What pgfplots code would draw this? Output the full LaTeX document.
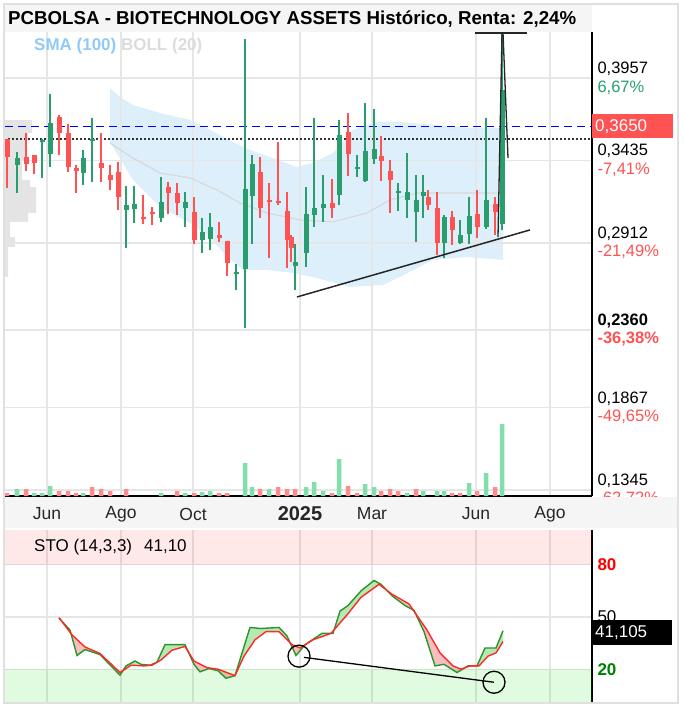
\documentclass[border=0pt]{standalone}
\usepackage{fontspec}
\setmainfont{Liberation Sans}
\usepackage{pgfplots}
\usepackage{pgfplotstable}
\pgfplotsset{compat=1.18}
\usepgfplotslibrary{fillbetween}

\definecolor{cgreen}{RGB}{41,157,110}
\definecolor{cred}{RGB}{255,82,82}
\definecolor{vgreen}{RGB}{130,222,170}
\definecolor{vred}{RGB}{255,140,140}
\definecolor{bbfill}{RGB}{222,239,252}
\definecolor{smaline}{RGB}{215,215,215}
\definecolor{gridgray}{RGB}{230,230,230}
\definecolor{barbg}{RGB}{245,245,245}
\definecolor{framegray}{RGB}{224,224,224}
\definecolor{pctgreen}{RGB}{38,160,110}
\definecolor{smablue}{RGB}{144,202,249}
\definecolor{bollgray}{RGB}{220,220,220}
\definecolor{profgray}{RGB}{228,228,228}
\definecolor{stogreen}{RGB}{40,150,40}
\definecolor{stored}{RGB}{255,40,40}
\definecolor{stopink}{RGB}{246,190,190}
\definecolor{stolgreen}{RGB}{180,232,180}
\definecolor{obred}{RGB}{255,0,0}
\definecolor{osgreen}{RGB}{0,220,0}
\definecolor{lab20}{RGB}{0,128,0}

% velas semanales: x (posicion), maximo, minimo, cuerpo arriba, cuerpo abajo
\pgfplotstableread{
x   hi     lo     top    bot
17  0.3488 0.3228 0.3450 0.3406
42  0.3571 0.3324 0.3564 0.3552
50  0.3856 0.3393 0.3672 0.3476
83  0.3501 0.3279 0.3450 0.3355
92  0.3704 0.3298 0.3571 0.3558
126 0.3273 0.2880 0.3152 0.3121
134 0.3273 0.3038 0.3159 0.3127
161 0.3330 0.3045 0.3171 0.3070
185 0.3235 0.3013 0.3171 0.3133
202 0.3070 0.2848 0.2981 0.2930
210 0.3102 0.2867 0.3013 0.2937
236 0.2778 0.2613 0.2728 0.2715
245 0.4205 0.2372 0.3254 0.2747
252 0.3469 0.2905 0.3412 0.3209
295 0.2905 0.2613 0.2791 0.2766
306 0.3266 0.2759 0.3095 0.2848
314 0.3704 0.3013 0.3133 0.3089
323 0.3343 0.3045 0.3159 0.3133
339 0.3691 0.3152 0.3596 0.3216
357 0.3469 0.3330 0.3393 0.3381
365 0.3799 0.3298 0.3495 0.3305
374 0.3761 0.3412 0.3507 0.3444
398 0.3292 0.3114 0.3241 0.3228
407 0.3482 0.3070 0.3235 0.3184
416 0.3343 0.2918 0.3184 0.3108
423 0.3343 0.3070 0.3235 0.3209
444 0.3089 0.2816 0.3076 0.2911
460 0.3057 0.2905 0.2962 0.2911
469 0.3203 0.2905 0.3083 0.2968
486 0.3704 0.3000 0.3184 0.3013
502 0.4243 0.2994 0.3881 0.3032
}\velasverdes

\pgfplotstableread{
x   hi     lo     top    bot
7   0.3571 0.3260 0.3571 0.3457
26  0.3609 0.3368 0.3457 0.3412
34  0.3469 0.3349 0.3469 0.3419
59  0.3723 0.3469 0.3710 0.3609
68  0.3666 0.3362 0.3609 0.3393
76  0.3406 0.3228 0.3387 0.3368
101 0.3609 0.3298 0.3419 0.3387
110 0.3406 0.3247 0.3343 0.3311
118 0.3425 0.3121 0.3362 0.3203
143 0.3216 0.3032 0.3076 0.3064
152 0.3140 0.3026 0.3108 0.3095
168 0.3298 0.3095 0.3266 0.3228
177 0.3292 0.3089 0.3228 0.3165
194 0.3203 0.2905 0.3108 0.2930
219 0.3045 0.2918 0.2962 0.2943
227 0.2924 0.2702 0.2924 0.2785
260 0.3457 0.3070 0.3362 0.3133
269 0.3292 0.2816 0.3184 0.3171
278 0.3552 0.3152 0.3178 0.3165
287 0.3235 0.2753 0.3114 0.2930
291 0.2962 0.2791 0.2949 0.2880
332 0.3317 0.3070 0.3165 0.3133
348 0.3736 0.3336 0.3615 0.3476
381 0.3590 0.3305 0.3463 0.3431
390 0.3438 0.3102 0.3368 0.3311
428 0.3247 0.3121 0.3203 0.3152
437 0.3235 0.2835 0.3133 0.2911
452 0.3114 0.2899 0.3076 0.2994
477 0.3247 0.2943 0.3095 0.3013
495 0.3203 0.2962 0.3159 0.3108
}\velasrojas

% volumen (unidades relativas)
\pgfplotstableread{
x v
17 7
34 3
42 3
50 10
83 3
161 3
185 3
202 4
210 5
245 33
252 9
269 7
306 9
314 14
323 5
339 37
365 12
374 9
407 3
423 5
437 5
444 5
469 13
486 23
502 72
}\volverde

\pgfplotstableread{
x v
7 3
26 7
59 5
68 5
76 3
92 9
101 7
110 5
126 7
177 5
194 3
219 3
227 3
260 7
278 9
287 7
295 7
332 3
348 10
357 3
381 5
390 7
398 5
416 7
452 3
460 3
477 5
495 9
}\volrojo

% estocastico %K y %D
\pgfplotstableread{
x v
59 49.4
70 42.5
77 27.9
85 31.3
100 28.4
120 16.6
126 21.9
135 24.7
141 22.8
150 22.3
157 24.1
165 34.1
185 34.1
194 22.8
200 18.5
209 20.4
218 19.1
226 14.8
235 16.3
250 44.0
261 43.4
279 44.0
287 39.1
296 27.9
305 34.1
322 40.6
333 40.6
340 53.4
348 56.6
361 65.0
374 71.0
381 68.8
392 62.2
405 56.6
414 53.8
424 41.6
435 21.9
444 22.8
457 18.1
468 21.9
477 21.9
485 32.2
496 32.2
503 42.1
}\stok

\pgfplotstableread{
x v
59 49.6
72 39.7
85 32.8
100 29.0
120 18.1
131 22.3
144 21.9
152 22.3
161 25.3
172 30.9
185 33.1
194 24.7
207 20.9
218 20.0
235 16.3
244 27.5
255 36.9
266 41.6
279 41.6
292 34.1
300 32.2
313 36.9
331 40.6
348 51.9
361 61.3
379 68.8
392 63.1
409 57.5
427 42.5
440 29.4
453 21.9
461 20.0
470 21.9
479 21.9
488 27.5
496 29.4
503 35.9
}\stod

\begin{document}
\begin{tikzpicture}
\path (0,0) rectangle (683pt,-708pt);

% cabecera
\fill[barbg] (5pt,-5pt) rectangle (592pt,-32pt);
\node[anchor=base west, inner sep=0pt, font=\bfseries\fontsize{18.7}{21}\selectfont]
  at (8pt,-25pt) {PCBOLSA - BIOTECHNOLOGY ASSETS Histórico, Renta: 2,24\%};

% panel de precios
\begin{axis}[
  at={(5pt,-32pt)}, anchor=north west,
  width=587pt, height=464pt, scale only axis,
  set layers,
  xmin=5, xmax=592, ymin=0.1307, ymax=0.4249,
  axis x line*=bottom, axis y line*=right,
  axis line style={black, line width=1.4pt},
  xtick={47,121,193,300,372,476,550}, xticklabel=\empty,
  ytick={0.1345,0.1867,0.2360,0.2912,0.3435,0.3957},
  yticklabels={
    {0,1345\\\textcolor{cred}{-62,72\%}},
    {0,1867\\\textcolor{cred}{-49,65\%}},
    {\textbf{0,2360}\\\textcolor{cred}{\textbf{-36,38\%}}},
    {0,2912\\\textcolor{cred}{-21,49\%}},
    {0,3435\\\textcolor{cred}{-7,41\%}},
    {0,3957\\\textcolor{pctgreen}{6,67\%}}},
  yticklabel style={anchor=west, align=left, xshift=2pt,
    font=\fontsize{16.5}{18.5}\selectfont},
  major tick length=0pt,
  grid=major, grid style={gridgray, line width=1.3pt},
]
% perfil de volumen
\addplot[on layer=axis background, fill=profgray, draw=none] coordinates {
  (5,0.3691) (32,0.3691) (32,0.3609) (28,0.3609) (28,0.3564) (25,0.3564)
  (25,0.3438) (22,0.3438) (22,0.3311) (30,0.3311) (30,0.3266) (36,0.3266)
  (36,0.3102) (28,0.3102) (28,0.3045) (10,0.3045) (10,0.2949) (15,0.2949)
  (15,0.2886) (8,0.2886) (8,0.2696) (5,0.2696)} -- cycle;
% bandas de Bollinger
\addplot[on layer=axis background, fill=bbfill, draw=none] coordinates {
  (110,0.3894) (120,0.3837) (133,0.3786) (160,0.3736) (190,0.3691) (210,0.3628)
  (233,0.3552) (250,0.3501) (273,0.3450) (297,0.3393) (313,0.3419) (333,0.3482)
  (353,0.3628) (377,0.3679) (400,0.3679) (433,0.3660) (467,0.3641) (503,0.3641)
  (503,0.2804) (467,0.2823) (433,0.2804) (400,0.2696) (383,0.2645) (350,0.2632)
  (317,0.2689) (293,0.2721) (267,0.2740) (243,0.2740) (227,0.2823) (210,0.2949)
  (190,0.3038) (160,0.3140) (133,0.3311) (113,0.3520) (110,0.3545)} -- cycle;
\addplot[smaline, line width=1.1pt] coordinates {
  (110,0.3545) (133,0.3450) (160,0.3355) (190,0.3324) (217,0.3247) (240,0.3165)
  (267,0.3102) (300,0.3057) (333,0.3045) (367,0.3102) (390,0.3184) (417,0.3228)
  (450,0.3228) (497,0.3228)};
% niveles
\addplot[blue, line width=1.3pt, dash pattern=on 8pt off 5pt] coordinates {(5,0.3652) (592,0.3652)};
\addplot[black!80, line width=1.3pt, dash pattern=on 2pt off 2pt] coordinates {(8,0.3571) (592,0.3571)};
% mechas y cuerpos
\addplot[draw=none, mark=none, error bars/.cd, y dir=plus, y explicit, error mark=none,
  error bar style={line width=1.3pt, draw=cgreen}]
  table[x=x, y=lo, y error plus expr=\thisrow{hi}-\thisrow{lo}] {\velasverdes};
\addplot[draw=none, mark=none, error bars/.cd, y dir=plus, y explicit, error mark=none,
  error bar style={line width=5pt, draw=cgreen}]
  table[x=x, y=bot, y error plus expr=\thisrow{top}-\thisrow{bot}] {\velasverdes};
\addplot[draw=none, mark=none, error bars/.cd, y dir=plus, y explicit, error mark=none,
  error bar style={line width=1.3pt, draw=cred}]
  table[x=x, y=lo, y error plus expr=\thisrow{hi}-\thisrow{lo}] {\velasrojas};
\addplot[draw=none, mark=none, error bars/.cd, y dir=plus, y explicit, error mark=none,
  error bar style={line width=5pt, draw=cred}]
  table[x=x, y=bot, y error plus expr=\thisrow{top}-\thisrow{bot}] {\velasrojas};
% lineas dibujadas a mano
\addplot[black!85, line width=1.5pt] coordinates {(297,0.2569) (530,0.2994)};
\addplot[black!85, line width=1.3pt] coordinates {(498,0.2949) (502,0.4243)};
\addplot[black!85, line width=1.3pt] coordinates {(503,0.4243) (508,0.3450)};
\addplot[black!85, line width=2pt] coordinates {(475,0.4243) (527,0.4243)};
\coordinate (precio) at (axis cs:592,0.3650);
\end{axis}

% volumen
\begin{axis}[
  at={(5pt,-32pt)}, anchor=north west,
  width=587pt, height=464pt, scale only axis, hide axis,
  xmin=5, xmax=592, ymin=0, ymax=464,
]
\addplot[ybar, bar width=4.5pt, bar shift=0pt, fill=vgreen, draw=none] table[x=x, y=v] {\volverde};
\addplot[ybar, bar width=4.5pt, bar shift=0pt, fill=vred, draw=none] table[x=x, y=v] {\volrojo};
\end{axis}

% franja de fechas
\fill[barbg] (5pt,-497pt) rectangle (678pt,-528pt);

% estocastico
\begin{axis}[
  at={(5pt,-530pt)}, anchor=north west,
  width=587pt, height=174pt, scale only axis,
  xmin=5, xmax=592, ymin=0, ymax=100,
  axis x line*=top, axis y line*=right,
  x axis line style={draw=none},
  y axis line style={black, line width=1.4pt},
  xtick={47,121,193,300,372,476,550},
  xticklabels={Jun,Ago,Oct,{\fontsize{20}{22}\selectfont\bfseries 2025},Mar,Jun,Ago},
  xticklabel style={anchor=center, yshift=16pt, text=black!85,
    font=\fontsize{17.5}{20}\selectfont},
  ytick={20,50,80},
  yticklabels={\textcolor{lab20}{\textbf{20}},50,\textcolor{red}{\textbf{80}}},
  yticklabel style={anchor=west, xshift=2pt, font=\fontsize{17}{20}\selectfont},
  major tick length=0pt,
  grid=major, grid style={gridgray, line width=1.3pt},
]
\addplot[fill=obred, fill opacity=0.09, draw=none] coordinates {(5,80) (592,80) (592,100) (5,100)} -- cycle;
\addplot[fill=osgreen, fill opacity=0.12, draw=none] coordinates {(5,0) (592,0) (592,20) (5,20)} -- cycle;
\addplot[name path=K, draw=none, forget plot] table[x=x, y=v] {\stok};
\addplot[name path=D, draw=none, forget plot] table[x=x, y=v] {\stod};
\addplot[stopink] fill between[of=K and D, soft clip={domain=59:123}];
\addplot[stolgreen] fill between[of=K and D, soft clip={domain=123:189}];
\addplot[stopink] fill between[of=K and D, soft clip={domain=189:240}];
\addplot[stolgreen] fill between[of=K and D, soft clip={domain=240:293}];
\addplot[stopink] fill between[of=K and D, soft clip={domain=293:306}];
\addplot[stolgreen] fill between[of=K and D, soft clip={domain=306:384}];
\addplot[stopink] fill between[of=K and D, soft clip={domain=384:467}];
\addplot[stolgreen] fill between[of=K and D, soft clip={domain=467:503}];
\addplot[stogreen, line width=1.4pt] table[x=x, y=v] {\stok};
\addplot[stored, line width=1.4pt] table[x=x, y=v] {\stod};
\addplot[only marks, mark=o, mark size=11pt, mark options={black, line width=1.3pt}]
  coordinates {(299,27.5) (494,12.5)};
\addplot[black, line width=1.3pt] coordinates {(304,26.8) (494,12.5)};
\coordinate (sto) at (axis cs:592,41.1);
\end{axis}

% etiquetas de precio actual
\node[anchor=west, fill=cred, text=white, minimum height=24pt, text width=75pt,
  inner xsep=3pt, inner ysep=0pt, align=left, font=\fontsize{17}{20}\selectfont]
  at (precio) {0,3650};
\node[anchor=west, fill=black, text=white, minimum height=25pt, text width=74pt,
  inner xsep=3pt, inner ysep=0pt, align=left, font=\fontsize{17}{20}\selectfont]
  at (sto) {41,105};

% leyendas
\node[anchor=west, inner sep=0pt, font=\bfseries\fontsize{17}{20}\selectfont]
  at (34pt,-46pt) {\textcolor{smablue}{SMA (100)} \textcolor{bollgray}{BOLL (20)}};
\node[anchor=west, inner sep=0pt, font=\fontsize{17}{20}\selectfont]
  at (34pt,-547pt) {STO (14,3,3)\hspace{12pt}41,10};

\draw[framegray, line width=1.5pt] (4pt,-4pt) rectangle (678pt,-703pt);
\end{tikzpicture}
\end{document}
